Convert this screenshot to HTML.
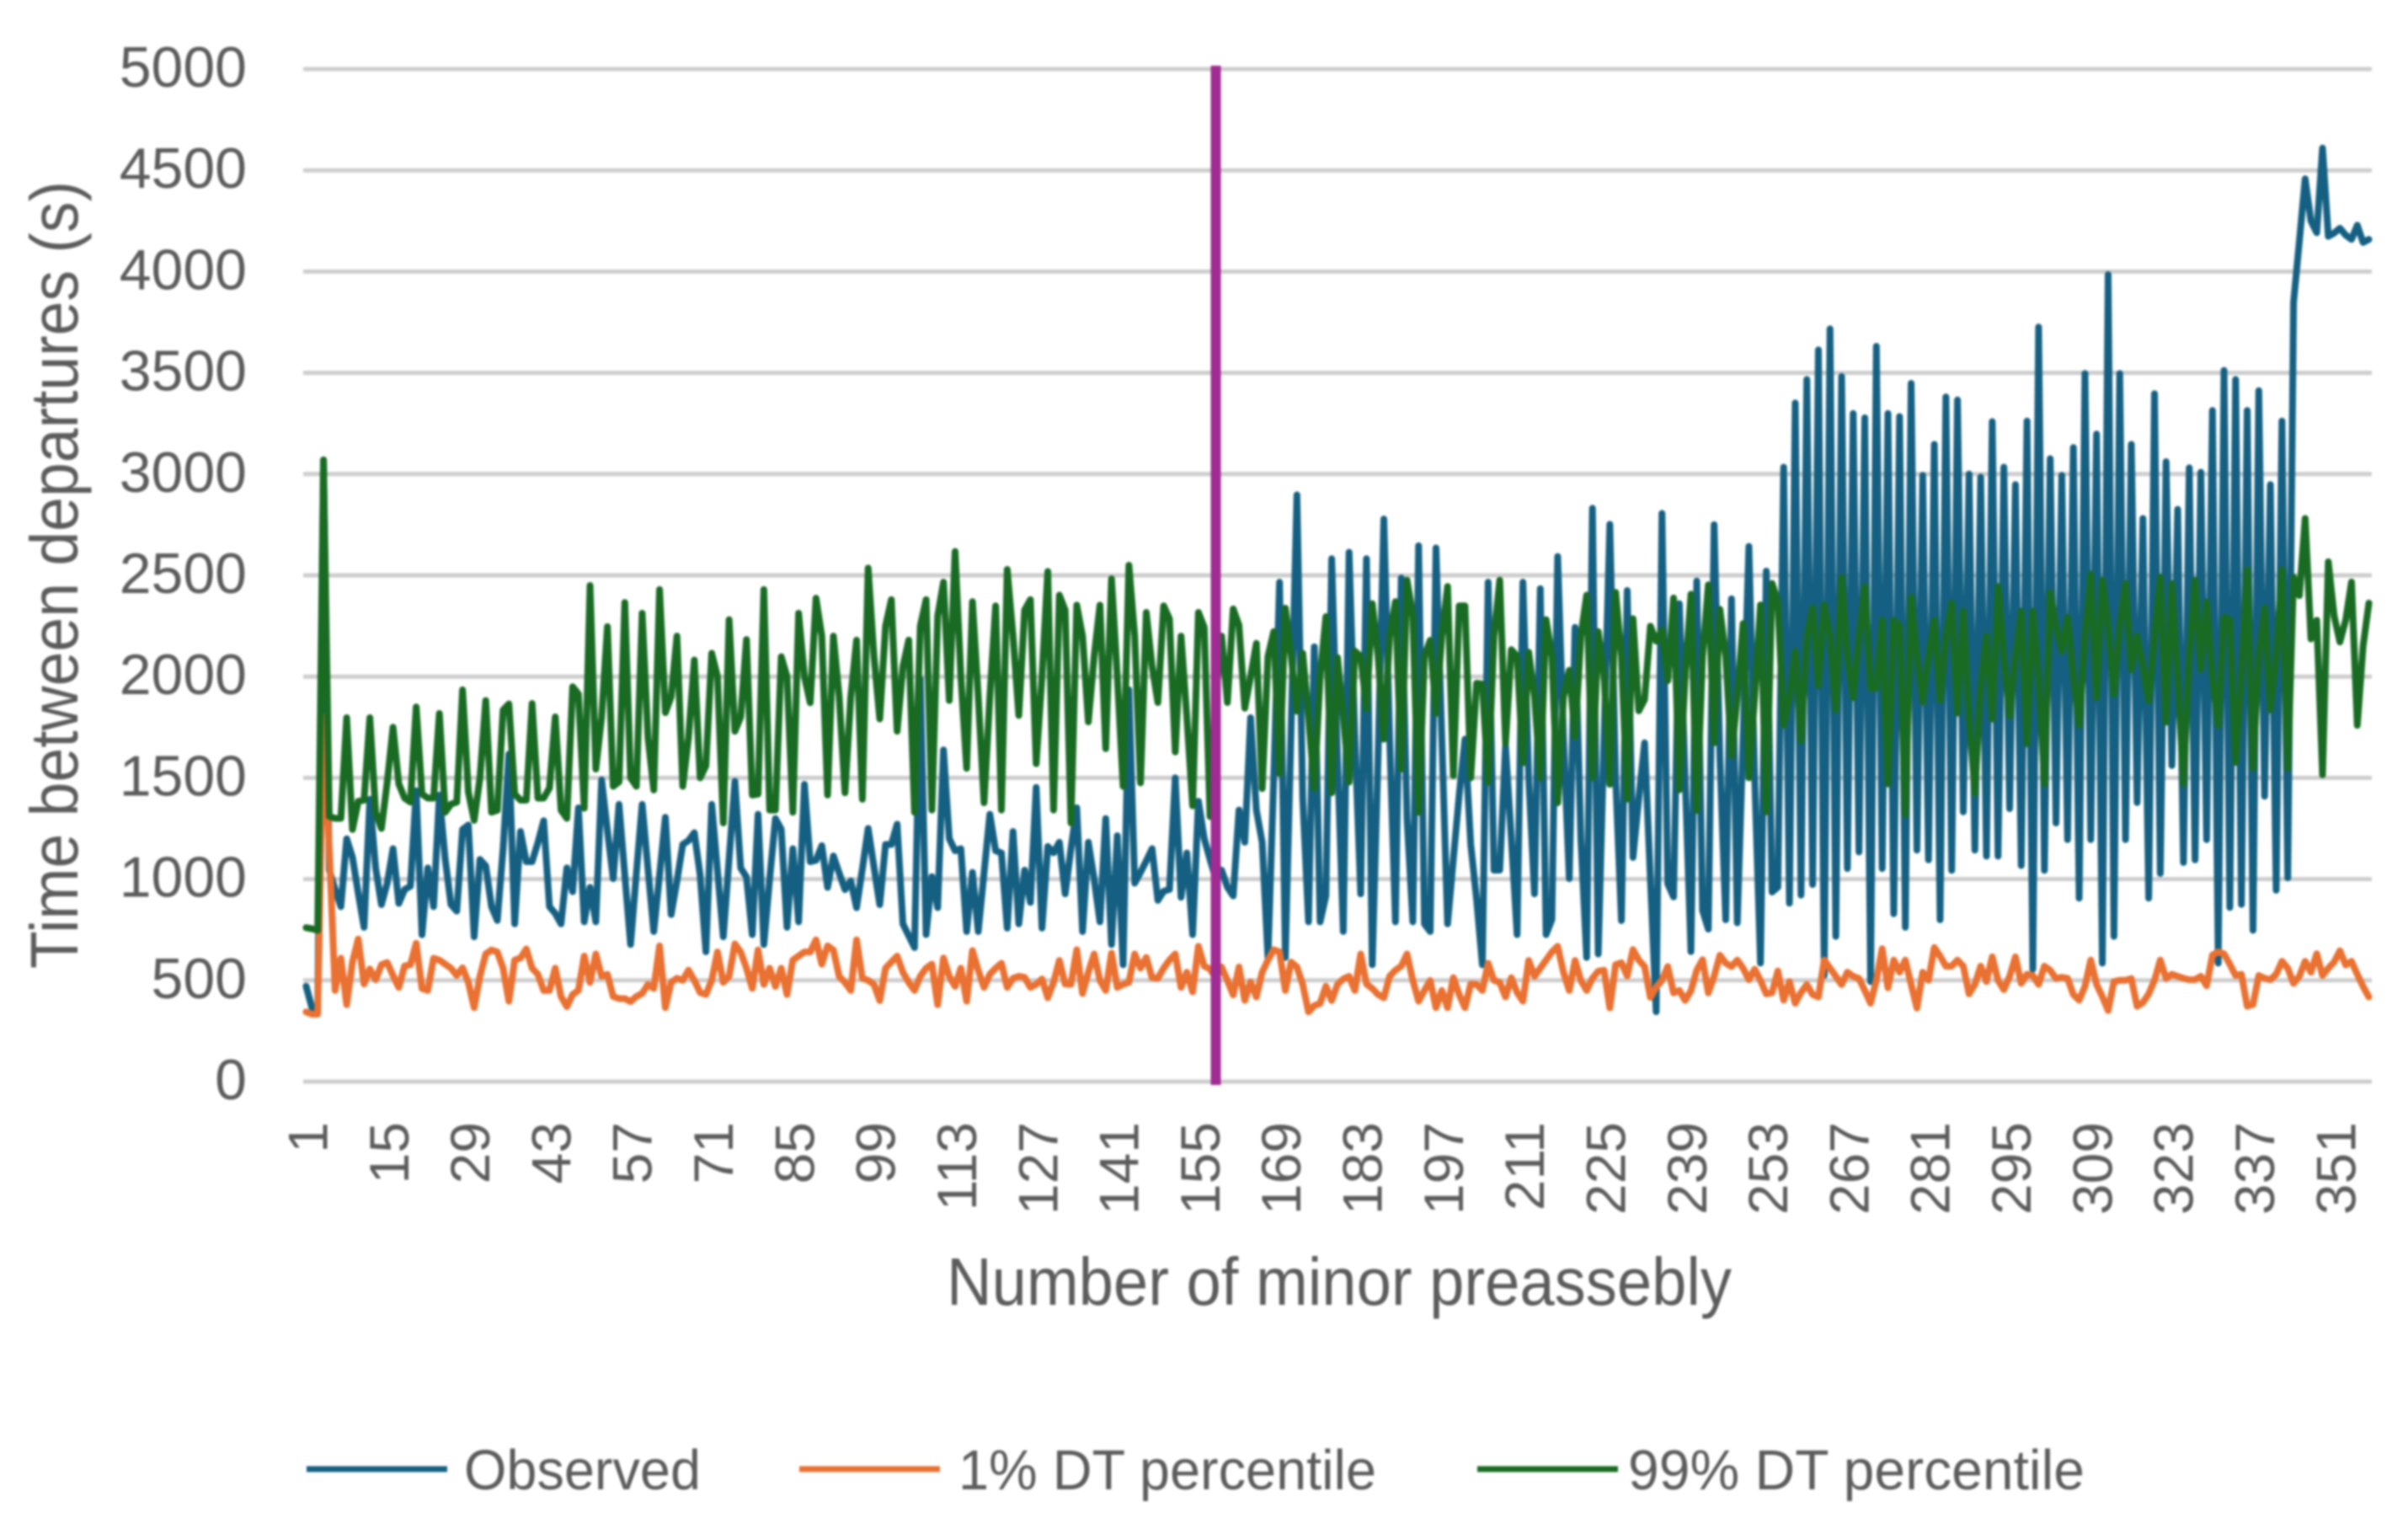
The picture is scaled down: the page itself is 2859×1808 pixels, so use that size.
<!DOCTYPE html>
<html lang="en">
<head>
<meta charset="utf-8">
<title>Time between departures chart</title>
<style>
html,body{margin:0;padding:0;background:#fff;}
body{width:2859px;height:1808px;overflow:hidden;}
svg{display:block;filter:blur(1.2px);font-family:"Liberation Sans",sans-serif;}
text{fill:#5c5c5c;}
</style>
</head>
<body>
<svg id="chart" xmlns="http://www.w3.org/2000/svg" width="2859" height="1808" viewBox="0 0 2859 1808">
  <rect x="0" y="0" width="2859" height="1808" fill="#ffffff"/>
  <g id="grid"></g>
  <g id="yticks"></g>
  <g id="xticks"></g>
  <g id="series" fill="none" stroke-linejoin="round" stroke-linecap="round"></g>
  <text transform="translate(92,1150) rotate(-90)" font-size="80" textLength="935" lengthAdjust="spacingAndGlyphs">Time between departures (s)</text>
  <text x="1124" y="1549" font-size="80" textLength="932" lengthAdjust="spacingAndGlyphs">Number of minor preassebly</text>
  <g>
    <g>
      <line x1="364" x2="531" y1="1744" y2="1744" stroke="#156082" stroke-width="7"/>
      <text x="551" y="1768" font-size="67" textLength="281" lengthAdjust="spacingAndGlyphs">Observed</text>
    </g>
    <g>
      <line x1="949" x2="1116" y1="1744" y2="1744" stroke="#E97132" stroke-width="7"/>
      <text x="1138" y="1768" font-size="67" textLength="496" lengthAdjust="spacingAndGlyphs">1% DT percentile</text>
    </g>
    <g>
      <line x1="1754" x2="1921" y1="1744" y2="1744" stroke="#196B24" stroke-width="7"/>
      <text x="1933" y="1768" font-size="67" textLength="542" lengthAdjust="spacingAndGlyphs">99% DT percentile</text>
    </g>
  </g>
</svg>
<script>
const yTickValues = [0,500,1000,1500,2000,2500,3000,3500,4000,4500,5000];
const xTickLabels = [1,15,29,43,57,71,85,99,113,127,141,155,169,183,197,211,225,239,253,267,281,295,309,323,337,351];
const markerCategory = 158;
const observed = [
471,365,340,3070,1044,950,864,1199,1108,930,762,1394,1055,874,980,1150,880,948,965,1436,
725,1055,864,1415,1100,874,842,1245,1267,715,1097,1065,864,796,1150,1617,779,1235,1086,1086,
1180,1288,864,830,779,1055,938,1352,789,959,789,1490,1240,1002,1369,1020,677,1030,1369,1050,
741,1020,1305,825,990,1171,1190,1229,1020,641,1369,1040,715,1100,1483,1055,1010,726,1320,677,
1000,1299,1246,762,1150,789,1468,1086,1093,1165,959,1114,1030,948,991,859,1050,1250,1060,874,
1171,1171,1271,779,720,662,1988,726,1012,859,1638,1200,1140,1150,741,1033,741,1030,1320,1140,
1129,758,1235,779,1044,885,1453,758,1161,1130,1182,927,1150,1352,741,1182,1000,789,1299,677,
1214,577,1935,980,1033,1090,1150,895,940,949,1500,910,1129,726,1384,1200,1097,1000,1044,960,
917,1341,1182,1797,1341,1182,613,1500,2466,613,1750,2897,1400,789,2147,789,917,2582,1600,741,
2614,1700,927,2582,577,1600,2778,1700,789,2487,1300,789,2646,779,741,2635,1700,779,1100,1415,
1691,1171,900,577,2466,1044,1044,1659,1200,726,2466,1500,927,2434,726,800,2593,1700,1002,2243,
1200,613,2831,630,1700,2752,1500,795,2425,1107,1400,1673,1000,345,2806,977,912,2360,1500,642,
2472,845,753,2750,1600,799,2384,784,1700,2643,1500,585,2521,936,960,3034,881,3351,921,3467,
973,3613,524,3717,717,3482,1052,3299,1134,3278,494,3631,1052,3299,829,3284,762,3448,1143,2994,
1095,3147,799,3381,1043,3366,1332,3000,1143,2985,1113,3259,1113,3034,1348,2948,1067,3262,555,3726,
1043,3076,1277,2994,1195,3131,906,3497,1195,3198,585,3985,717,3497,1195,3147,1378,2781,906,3397,
1028,3061,1561,2826,1082,3031,1095,3009,1195,3314,585,3512,860,3467,875,3314,747,3412,1409,2948,
945,3262,1006,3848,4150,4458,4250,4192,4610,4174,4190,4214,4180,4159,4229,4144,4159
];
const percentile1 = [
344,333,333,1800,1150,450,609,380,590,704,482,556,503,577,588,524,465,571,577,683,
460,450,609,600,580,560,524,562,490,365,520,630,650,640,560,397,600,610,655,560,
530,450,450,560,420,370,430,450,620,490,630,520,530,420,410,410,395,420,435,480,
460,670,365,490,510,500,550,500,440,430,500,640,490,520,680,640,560,460,650,480,
560,470,560,430,600,620,640,640,700,580,670,650,520,490,450,700,510,500,480,400,
560,590,620,540,490,450,520,560,580,380,610,520,470,560,397,647,550,465,530,560,
584,465,510,520,515,465,480,507,414,490,598,482,480,651,435,540,630,500,450,634,
465,480,490,630,560,613,513,510,560,600,630,465,540,443,668,570,556,510,566,500,
428,566,401,492,418,540,600,651,640,450,590,566,480,344,375,386,471,400,480,507,
520,450,630,482,460,430,414,520,550,570,630,500,397,450,499,365,450,365,513,430,
365,482,480,450,584,500,490,418,513,440,397,598,520,560,600,640,668,540,450,598,
500,450,510,545,550,364,577,587,522,652,600,568,416,466,500,568,438,450,401,448,
550,602,438,520,624,585,568,600,560,503,555,500,433,439,546,402,494,387,440,479,
430,418,600,560,520,479,540,520,509,450,387,500,656,463,600,540,600,480,363,540,
500,662,620,570,570,600,570,433,480,570,494,616,500,454,520,616,485,530,524,480,
570,550,509,515,510,430,402,470,600,480,420,351,494,500,500,509,372,390,433,500,
600,509,530,520,510,503,503,520,473,625,640,631,580,524,530,372,381,524,510,503,
530,594,560,485,520,594,540,631,524,560,590,646,576,594,530,470,418
];
const percentile99 = [
760,755,747,3070,1310,1300,1300,1797,1245,1384,1390,1797,1330,1250,1480,1750,1470,1400,1380,1850,
1420,1400,1400,1818,1330,1370,1380,1935,1430,1290,1500,1882,1330,1340,1835,1865,1420,1390,1390,1867,
1400,1400,1450,1801,1340,1300,1950,1914,1350,2450,1543,1800,2247,1458,1480,2366,1500,1458,2313,1700,
1440,2430,1822,1900,2200,1458,1700,2082,1500,1560,2115,2000,1277,2281,1730,1800,2183,1415,1420,2430,
1341,1341,2098,2000,1330,2313,2000,1871,2387,2200,1415,2200,1900,1426,1900,2180,1394,2536,2100,1791,
2250,2380,1730,2050,2180,1330,2250,2380,1341,2300,2466,1882,2618,2000,1547,2370,1900,1377,1900,2349,
1341,2529,2200,1808,2328,2380,1570,2000,2519,1341,2402,2328,1277,2353,2200,1776,2100,2353,1644,2483,
2000,1458,2550,2200,1475,2317,2050,1872,2349,2285,1628,2200,1800,1362,2317,2243,1309,1900,2200,1872,
2334,2253,1844,2000,2164,1447,2100,2222,1521,2338,2100,1829,2115,1800,1447,2000,2296,1426,2094,1800,
1479,2126,2100,1840,2360,2100,1691,2200,2370,1543,2476,2300,1330,2100,2179,1818,2200,2445,1511,2349,
2349,1500,1967,1963,1479,2200,2476,1670,2133,2100,1574,2120,1900,1500,2281,2100,1377,1900,2031,1702,
2200,2402,1500,2222,2000,1468,2416,2100,1395,2286,1831,1887,2249,2175,2230,1980,2388,1441,2000,2407,
1339,2100,2453,1673,2332,2100,1608,1900,2262,1500,1900,2354,1332,2460,2369,1759,1900,2125,1683,2200,
2339,1957,2354,2200,1835,2491,2100,1896,2200,2445,1942,1942,2278,1470,2278,2250,1317,2393,2100,1875,
2100,2278,1881,2200,2363,1820,2323,1800,1424,1950,2201,1790,2445,2100,1805,2100,2323,1668,2323,2000,
1470,2415,2250,2125,2293,2000,1759,2200,2506,1896,2476,2250,1912,2250,2460,2034,2201,2050,1881,2200,
2491,1775,2460,2000,1470,2100,2476,2034,2369,2000,1759,2293,2280,1576,2000,2528,1546,2100,2339,1835,
2100,2528,1546,2491,2400,2781,2186,2278,1515,2567,2300,2171,2280,2467,1759,2150,2363
];

const SVG_NS = 'http://www.w3.org/2000/svg';
const plotLeft = 360, plotRight = 2816, plotTop = 82, plotBottom = 1284;
const yMax = yTickValues[yTickValues.length - 1];
const categoryCount = observed.length;
function xScale(category) {
  return plotLeft + (category - 0.5) * (plotRight - plotLeft) / categoryCount;
}
function yScale(value) {
  return plotBottom - value * (plotBottom - plotTop) / yMax;
}
function make(tag, attrs) {
  const el = document.createElementNS(SVG_NS, tag);
  for (const k in attrs) el.setAttribute(k, attrs[k]);
  return el;
}
const grid = document.getElementById('grid');
const yticks = document.getElementById('yticks');
const xticks = document.getElementById('xticks');
const seriesGroup = document.getElementById('series');

yTickValues.forEach(function (v) {
  const line = make('line', {x1: plotLeft, x2: plotRight, y1: yScale(v), y2: yScale(v), stroke: '#cdcdcd', 'stroke-width': 5});
  
  
  grid.appendChild(line);
  const label = make('text', {x: 293, y: yScale(v) + 21, 'text-anchor': 'end', 'font-size': 68});
  
  
  label.textContent = v;
  yticks.appendChild(label);
});

xTickLabels.forEach(function (c) {
  const px = xScale(c) + 2 + 23;
  const label = make('text', {transform: 'translate(' + px + ',1332) rotate(-90)', 'text-anchor': 'end', 'font-size': 66});
  
  
  label.textContent = c;
  xticks.appendChild(label);
});

function linePath(values) {
  return values.map(function (v, i) {
    return (i ? 'L' : 'M') + xScale(i + 1).toFixed(2) + ' ' + yScale(v).toFixed(2);
  }).join('');
}

const observedLine = make('path', {d: linePath(observed), stroke: '#156082', 'stroke-width': 8});


seriesGroup.appendChild(observedLine);

const lowLine = make('path', {d: linePath(percentile1), stroke: '#E97132', 'stroke-width': 8});


seriesGroup.appendChild(lowLine);

const highLine = make('path', {d: linePath(percentile99), stroke: '#196B24', 'stroke-width': 8});


seriesGroup.appendChild(highLine);

const marker = make('line', {x1: xScale(markerCategory), x2: xScale(markerCategory), y1: yScale(yMax) - 4, y2: yScale(0) + 4, stroke: '#A02B93', 'stroke-width': 12, 'stroke-linecap': 'butt'});


seriesGroup.appendChild(marker);
</script>
</body>
</html>
